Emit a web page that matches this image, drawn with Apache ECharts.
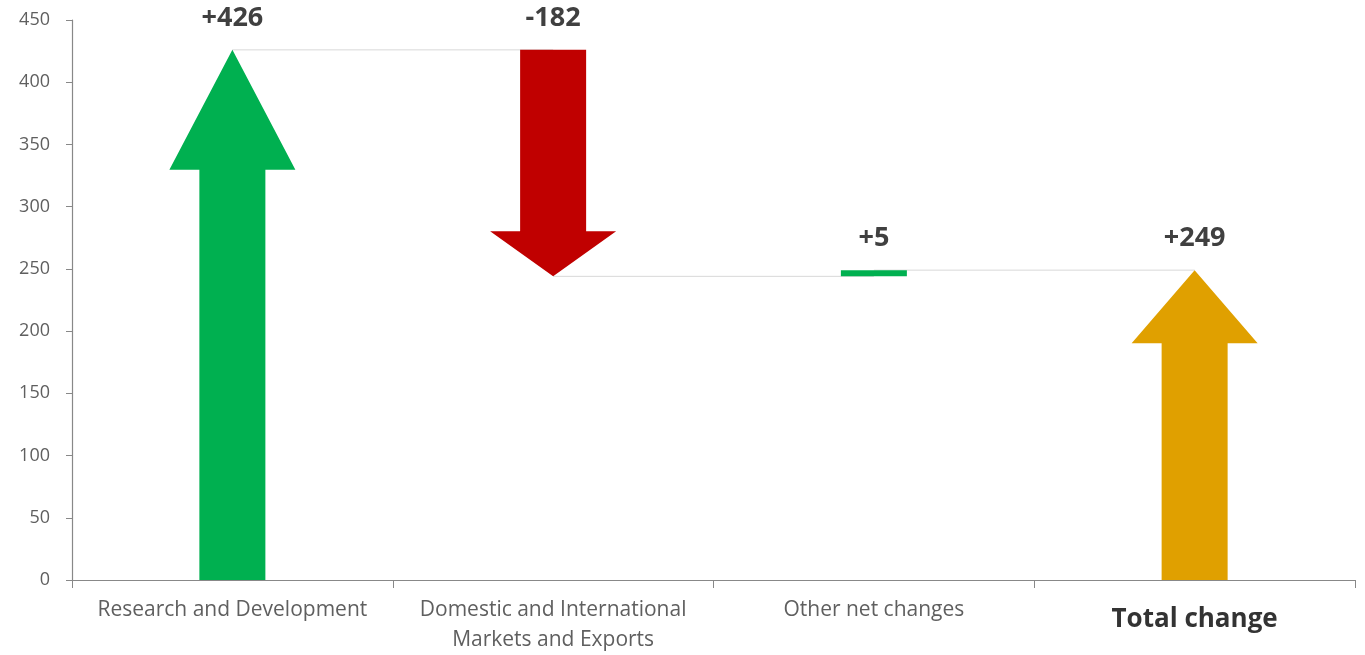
<!DOCTYPE html>
<html>
<head>
<meta charset="utf-8">
<script src="https://cdn.jsdelivr.net/npm/echarts@6/dist/echarts.min.js"></script>
<style>
html,body{margin:0;padding:0;background:#fff;overflow:hidden;}
#chart{width:1365px;height:655px;}
</style>
</head>
<body>
<div id="chart"></div>
<script>
const categories = ['Research and Development', 'Domestic and International\nMarkets and Exports', 'Other net changes', 'Total change'];
const changes = [426, -182, 5, 249];
const isTotal = [false, false, false, true];
const valueLabels = ['+426', '-182', '+5', '+249'];
const yTicks = [0, 50, 100, 150, 200, 250, 300, 350, 400, 450];

// styles (not data)
const colors = ['#00B050', '#C00000', '#00B050', '#E0A000'];
const headLen = [120, 45, 0, 73];
const shaftW = 66;
const headW = 126;

// derived start/end
const rows = [];
let run = 0;
changes.forEach((c, i) => {
  if (isTotal[i]) { rows.push([i, 0, c]); }
  else { rows.push([i, run, run + c]); run += c; }
});

const chart = echarts.init(document.getElementById('chart'));
const FONT = '"Open Sans", sans-serif';

function renderItem(params, api) {
  const i = api.value(0);
  const s = api.value(1), e = api.value(2);
  const ps = api.coord([i, s]);
  const pe = api.coord([i, e]);
  const cx = ps[0];
  const ys = ps[1], ye = pe[1];
  const dir = ye < ys ? -1 : 1; // -1 up
  const hl = Math.min(headLen[i], Math.abs(ye - ys));
  const children = [];
  if (i < rows.length - 1) {
    const nx = api.coord([i + 1, e])[0];
    children.push({
      type: 'line', z2: 1,
      shape: {x1: cx, y1: ye, x2: nx, y2: ye},
      style: {stroke: '#d8d8d8', lineWidth: 1}
    });
  }
  let pts;
  if (hl <= 0) {
    pts = [[cx - shaftW / 2, ys], [cx + shaftW / 2, ys], [cx + shaftW / 2, ye], [cx - shaftW / 2, ye]];
  } else {
    const yb = ye - dir * hl;
    pts = [
      [cx - shaftW / 2, ys], [cx + shaftW / 2, ys],
      [cx + shaftW / 2, yb], [cx + headW / 2, yb],
      [cx, ye],
      [cx - headW / 2, yb], [cx - shaftW / 2, yb]
    ];
  }
  children.push({
    type: 'polygon', z2: 5,
    shape: {points: pts},
    style: {fill: colors[i]}
  });
  children.push({
    type: 'text', z2: 10,
    style: {
      text: valueLabels[i],
      x: cx, y: Math.min(ys, ye) - 32,
      align: 'center', verticalAlign: 'middle',
      fill: '#404040', font: 'bold 27px ' + FONT
    }
  });
  return {type: 'group', children: children};
}

chart.setOption({
  animation: false,
  backgroundColor: '#fff',
  grid: {left: 72, width: 1283, top: 20, height: 560, containLabel: false},
  xAxis: {
    type: 'category',
    data: categories,
    boundaryGap: true,
    axisLine: {lineStyle: {color: '#888', width: 1.2}},
    axisTick: {show: true, length: 8, lineStyle: {color: '#888'}},
    axisLabel: {
      interval: 0, margin: 15, color: '#5f5f5f', fontSize: 21, lineHeight: 30,
      fontFamily: FONT,
      formatter: v => v === 'Total change' ? '{t|' + v + '}' : v,
      rich: {t: {fontSize: 26, fontWeight: 'bold', color: '#333', lineHeight: 50, fontFamily: FONT}}
    },
    splitLine: {show: false}
  },
  yAxis: {
    type: 'value', min: 0, max: 450, interval: 50,
    axisLine: {show: true, lineStyle: {color: '#888', width: 1.2}},
    axisTick: {show: true, length: 6, lineStyle: {color: '#888'}},
    axisLabel: {color: '#5f5f5f', fontSize: 18, margin: 22, fontFamily: FONT,
      formatter: v => yTicks.includes(v) ? String(v) : ''},
    splitLine: {show: false}
  },
  series: [{
    type: 'custom',
    renderItem: renderItem,
    encode: {x: 0, y: [1, 2]},
    data: rows,
    clip: false
  }]
});
</script>
</body>
</html>
